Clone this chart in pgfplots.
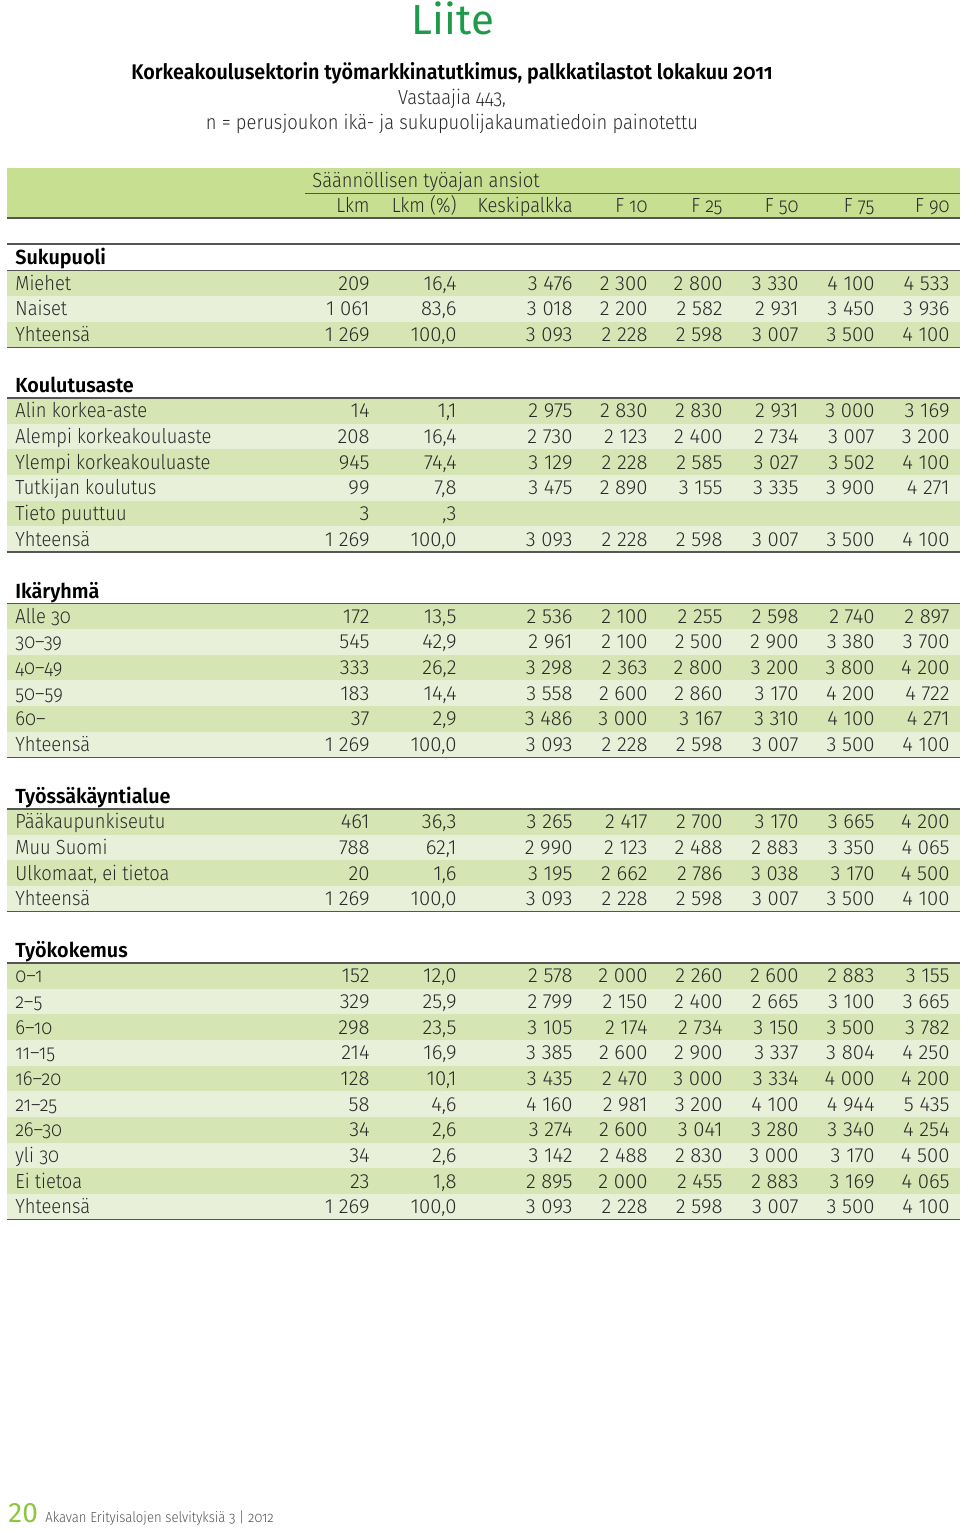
\documentclass[border=0pt]{standalone}
\usepackage{fontspec}
\setmainfont{Fira Sans}[UprightFont=* Light, BoldFont=* SemiBold, FakeStretch=0.9]
\newfontfamily\firareg{Fira Sans}
\usepackage{pgfplots}
\pgfplotsset{compat=1.18}

\definecolor{hdr}{HTML}{C6DF90}
\definecolor{rowD}{HTML}{D5E6B4}
\definecolor{rowL}{HTML}{E8F0DA}
\definecolor{rule}{HTML}{555555}
\definecolor{liite}{HTML}{1E9A4A}
\definecolor{foot}{HTML}{8DC63F}
\definecolor{txt}{HTML}{2A2A2A}

\newcommand\osf{\addfontfeatures{Numbers=OldStyle}}
\newcommand\body{\fontsize{10.2}{12}\selectfont}

% values of one row: y, then 8 columns separated by /
\def\vals#1#2/#3/#4/#5/#6/#7/#8/#9\relax{%
  \node[num] at (axis cs:370,{#1}) {#2};
  \node[num] at (axis cs:457,{#1}) {#3};
  \node[num] at (axis cs:573,{#1}) {#4};
  \node[num] at (axis cs:648,{#1}) {#5};
  \node[num] at (axis cs:723,{#1}) {#6};
  \node[num] at (axis cs:799,{#1}) {#7};
  \node[num] at (axis cs:875,{#1}) {#8};
  \node[num] at (axis cs:950,{#1}) {#9};}
% \trow{top line y}{row index}{label}{values}
\newcommand\trow[4]{%
  \ifodd#2
    \fill[rowL] (axis cs:7,{#1+25.65*#2}) rectangle (axis cs:960,{#1+25.65*(#2+1)});
  \else
    \fill[rowD] (axis cs:7,{#1+25.65*#2}) rectangle (axis cs:960,{#1+25.65*(#2+1)});
  \fi
  \node[lab] at (axis cs:15,{#1+25.65*#2+19.8}) {#3};
  \vals{#1+25.65*#2+19.8}#4\relax}
% \sect{top line y}{rows}{heading}
\newcommand\sect[3]{%
  \node[hd] at (axis cs:15,{#1-5.5}) {#3};
  \draw[rule, line width=0.7pt] (axis cs:7,{#1}) -- (axis cs:960,{#1});
  \draw[rule, line width=0.7pt] (axis cs:7,{#1+25.65*#2}) -- (axis cs:960,{#1+25.65*#2});}

\begin{document}
\begin{tikzpicture}[
  lab/.style={anchor=base west, inner sep=0pt, text=txt, font=\body\osf},
  num/.style={anchor=base east, inner sep=0pt, text=txt, font=\body\addfontfeatures{FakeStretch=1.0}},
  hd/.style={anchor=base west, inner sep=0pt, text=black, font=\body\bfseries\addfontfeatures{FakeStretch=0.97}}]
\begin{axis}[name=ax, width=480pt, height=764.5pt, scale only axis,
  xmin=0, xmax=960, ymin=0, ymax=1529, y dir=reverse, hide axis, clip=false]

% titles
\node[anchor=base, inner sep=0pt, text=liite, font=\firareg\fontsize{21}{24}\selectfont] at (axis cs:453,35) {Liite};
\node[anchor=base, inner sep=0pt, font=\fontsize{10.6}{12}\selectfont\bfseries\osf\addfontfeatures{FakeStretch=0.93}] at (axis cs:452,80) {Korkeakoulusektorin työmarkkinatutkimus, palkkatilastot lokakuu 2011};
\node[anchor=base, inner sep=0pt, text=txt, font=\body\osf] at (axis cs:452,105) {Vastaajia 443,};
\node[anchor=base, inner sep=0pt, text=txt, font=\body\osf] at (axis cs:452,130) {n = perusjoukon ikä- ja sukupuolijakaumatiedoin painotettu};

% header band
\fill[hdr] (axis cs:7,168) rectangle (axis cs:960,218);
\draw[rule, line width=0.5pt] (axis cs:305,194) -- (axis cs:960,194);
\draw[rule, line width=0.7pt] (axis cs:7,218) -- (axis cs:960,218);
\node[lab] at (axis cs:312,188) {Säännöllisen työajan ansiot};
\node[num, font=\body\osf] at (axis cs:370,213) {Lkm};
\node[num, font=\body\osf] at (axis cs:457,213) {Lkm (\%)};
\node[num, font=\body\osf] at (axis cs:573,213) {Keskipalkka};
\node[num, font=\body\osf] at (axis cs:648,213) {F 10};
\node[num, font=\body\osf] at (axis cs:723,213) {F 25};
\node[num, font=\body\osf] at (axis cs:799,213) {F 50};
\node[num, font=\body\osf] at (axis cs:875,213) {F 75};
\node[num, font=\body\osf] at (axis cs:950,213) {F 90};
\draw[rule, line width=0.7pt] (axis cs:7,244) -- (axis cs:960,244);

% Sukupuoli
\trow{270.5}{0}{Miehet}{209/16,4/3 476/2 300/2 800/3 330/4 100/4 533}
\trow{270.5}{1}{Naiset}{1 061/83,6/3 018/2 200/2 582/2 931/3 450/3 936}
\trow{270.5}{2}{Yhteensä}{1 269/100,0/3 093/2 228/2 598/3 007/3 500/4 100}
\sect{270.5}{3}{Sukupuoli}

% Koulutusaste
\trow{398}{0}{Alin korkea-aste}{14/1,1/2 975/2 830/2 830/2 931/3 000/3 169}
\trow{398}{1}{Alempi korkeakouluaste}{208/16,4/2 730/2 123/2 400/2 734/3 007/3 200}
\trow{398}{2}{Ylempi korkeakouluaste}{945/74,4/3 129/2 228/2 585/3 027/3 502/4 100}
\trow{398}{3}{Tutkijan koulutus}{99/7,8/3 475/2 890/3 155/3 335/3 900/4 271}
\trow{398}{4}{Tieto puuttuu}{3/,3/{}/{}/{}/{}/{}/{}}
\trow{398}{5}{Yhteensä}{1 269/100,0/3 093/2 228/2 598/3 007/3 500/4 100}
\sect{398}{6}{Koulutusaste}

% Ikäryhmä
\trow{603.5}{0}{Alle 30}{172/13,5/2 536/2 100/2 255/2 598/2 740/2 897}
\trow{603.5}{1}{30–39}{545/42,9/2 961/2 100/2 500/2 900/3 380/3 700}
\trow{603.5}{2}{40–49}{333/26,2/3 298/2 363/2 800/3 200/3 800/4 200}
\trow{603.5}{3}{50–59}{183/14,4/3 558/2 600/2 860/3 170/4 200/4 722}
\trow{603.5}{4}{60–}{37/2,9/3 486/3 000/3 167/3 310/4 100/4 271}
\trow{603.5}{5}{Yhteensä}{1 269/100,0/3 093/2 228/2 598/3 007/3 500/4 100}
\sect{603.5}{6}{Ikäryhmä}

% Työssäkäyntialue
\trow{809}{0}{Pääkaupunkiseutu}{461/36,3/3 265/2 417/2 700/3 170/3 665/4 200}
\trow{809}{1}{Muu Suomi}{788/62,1/2 990/2 123/2 488/2 883/3 350/4 065}
\trow{809}{2}{Ulkomaat, ei tietoa}{20/1,6/3 195/2 662/2 786/3 038/3 170/4 500}
\trow{809}{3}{Yhteensä}{1 269/100,0/3 093/2 228/2 598/3 007/3 500/4 100}
\sect{809}{4}{Työssäkäyntialue}

% Työkokemus
\trow{963}{0}{0–1}{152/12,0/2 578/2 000/2 260/2 600/2 883/3 155}
\trow{963}{1}{2–5}{329/25,9/2 799/2 150/2 400/2 665/3 100/3 665}
\trow{963}{2}{6–10}{298/23,5/3 105/2 174/2 734/3 150/3 500/3 782}
\trow{963}{3}{11–15}{214/16,9/3 385/2 600/2 900/3 337/3 804/4 250}
\trow{963}{4}{16–20}{128/10,1/3 435/2 470/3 000/3 334/4 000/4 200}
\trow{963}{5}{21–25}{58/4,6/4 160/2 981/3 200/4 100/4 944/5 435}
\trow{963}{6}{26–30}{34/2,6/3 274/2 600/3 041/3 280/3 340/4 254}
\trow{963}{7}{yli 30}{34/2,6/3 142/2 488/2 830/3 000/3 170/4 500}
\trow{963}{8}{Ei tietoa}{23/1,8/2 895/2 000/2 455/2 883/3 169/4 065}
\trow{963}{9}{Yhteensä}{1 269/100,0/3 093/2 228/2 598/3 007/3 500/4 100}
\sect{963}{10}{Työkokemus}

% footer
\node[anchor=base west, inner sep=0pt, text=foot, font=\firareg\fontsize{14}{16}\selectfont] at (axis cs:8,1522) {20};
\node[anchor=base west, inner sep=0pt, text=txt!80, font=\fontsize{7.3}{9}\selectfont\osf] at (axis cs:45,1522) {Akavan Erityisalojen selvityksiä 3 | 2012};
\end{axis}
\pgfresetboundingbox
\path (ax.south west) rectangle (ax.north east);
\end{tikzpicture}
\end{document}
